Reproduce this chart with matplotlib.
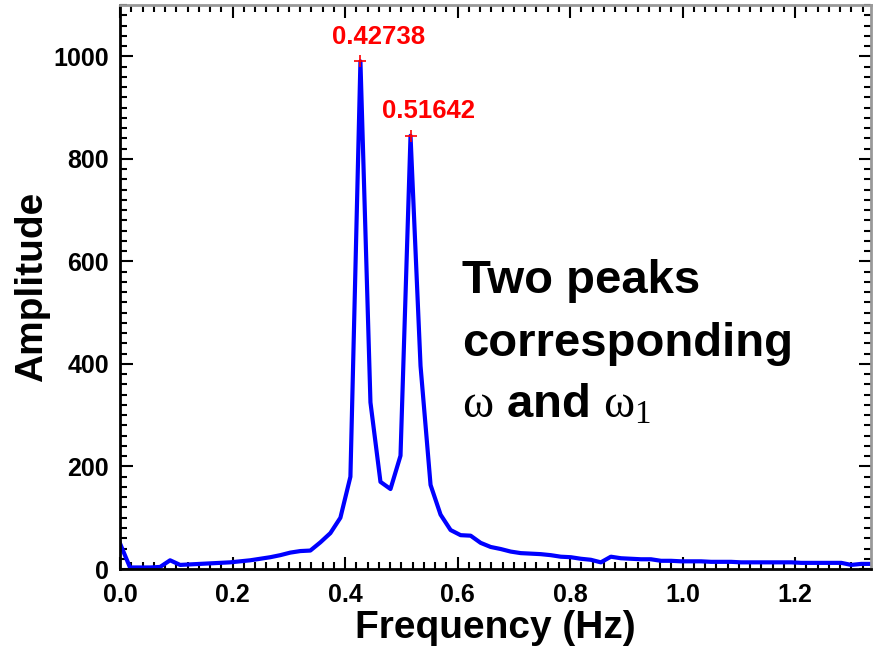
import numpy as np
import matplotlib
matplotlib.use('Agg')
import matplotlib.pyplot as plt
from matplotlib.ticker import MultipleLocator, FormatStrFormatter

plt.rcParams.update({
    'font.family': ['Liberation Sans', 'DejaVu Sans'], 'font.weight': 'bold',
    'mathtext.fontset': 'custom', 'mathtext.rm': 'Liberation Serif:weight=normal',
    'mathtext.it': 'Liberation Serif:italic', 'mathtext.bf': 'Liberation Serif:bold',
})

# spectrum: frequency step and amplitudes
df = 0.0178075
amplitude = [50, 3, 3, 3, 4, 17, 8, 9, 10, 11,
             12, 13, 15, 17, 20, 23, 27, 32, 35, 36,
             52, 70, 100, 180, 990, 325, 170, 156, 221, 845,
             396, 164, 106, 76, 66, 65, 51, 43, 39, 34,
             31, 30, 29, 27, 24, 23, 20, 18, 13, 24,
             21, 20, 19, 19, 16, 16, 15, 15, 15, 14,
             14, 14, 13, 13, 13, 13, 13, 13, 12, 12,
             12, 12, 12, 8, 10, 10]
freq = np.arange(len(amplitude)) * df
peak_freq = [0.42738, 0.51642]
peak_amp = [990, 845]
peak_labels = ['0.42738', '0.51642']

fig = plt.figure(figsize=(8.74, 6.5), dpi=100)
ax = fig.add_axes([0.1373, 0.1246, 0.8593, 0.8677])
ax.plot(freq, amplitude, color='#0000ff', lw=3)
ax.plot(peak_freq, peak_amp, '+', color='red', ms=9, mew=1.2)
for fx, fy, lab in zip(peak_freq, peak_amp, peak_labels):
    ax.text(fx + 0.032, fy + 25, lab, color='red', fontsize=18.5, fontweight='bold', ha='center', va='bottom')

ax.set_xlim(0, 1.335); ax.set_ylim(0, 1100)
ax.xaxis.set_major_locator(MultipleLocator(0.2)); ax.xaxis.set_minor_locator(MultipleLocator(0.02))
ax.yaxis.set_major_locator(MultipleLocator(200)); ax.yaxis.set_minor_locator(MultipleLocator(20))
ax.xaxis.set_major_formatter(FormatStrFormatter('%.1f'))
ax.tick_params(which='both', direction='in', top=True, right=True, width=1.5, labelsize=18)
ax.tick_params(axis='x', pad=10); ax.tick_params(axis='y', pad=8)
ax.tick_params(which='major', length=9); ax.tick_params(which='minor', length=5)
for s in ['left', 'bottom']:
    ax.spines[s].set_linewidth(2)
for s in ['top', 'right']:
    ax.spines[s].set_color('#999999'); ax.spines[s].set_linewidth(2)
for axis in [ax.xaxis, ax.yaxis]:
    for t in axis.get_major_ticks() + axis.get_minor_ticks():
        t.tick2line.set_color('#999999')
ax.set_xlabel('Frequency (Hz)', fontsize=28, fontweight='bold', labelpad=2)
ax.set_ylabel('Amplitude', fontsize=28, fontweight='bold', labelpad=2)

tx = 0.608
ax.text(tx, 538, 'Two peaks', fontsize=34, fontweight='bold', va='baseline')
ax.text(tx, 416, 'corresponding', fontsize=34, fontweight='bold', va='baseline')
ax.text(tx, 296, r'$\mathrm{\omega}$ and $\mathrm{\omega_1}$', fontsize=34, fontweight='bold', va='baseline')

fig.savefig('out.png', dpi=100)
